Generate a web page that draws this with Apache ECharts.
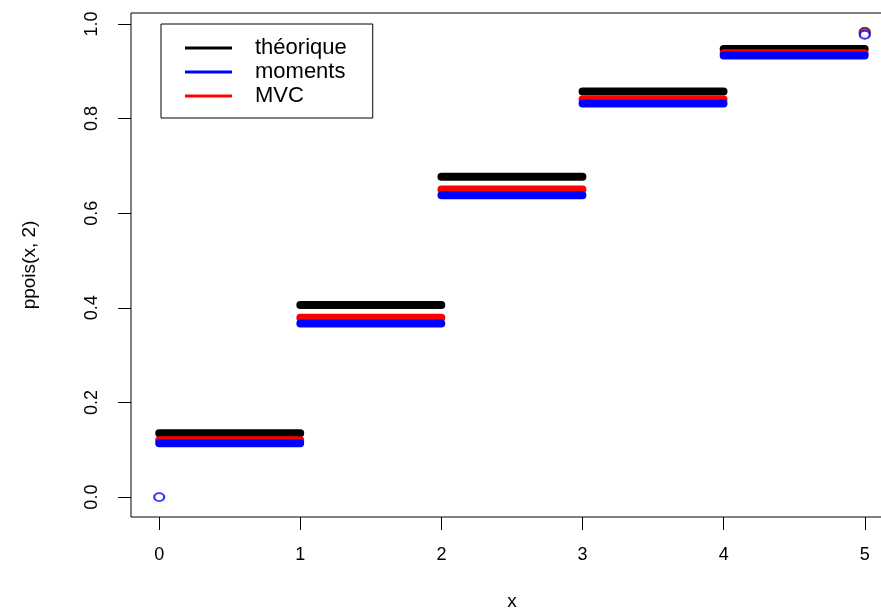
<!DOCTYPE html>
<html>
<head>
<meta charset="utf-8">
<script src="https://cdn.jsdelivr.net/npm/echarts@6/dist/echarts.min.js"></script>
<style>
html,body{margin:0;padding:0;background:#fff;}
#chart{width:881px;height:613px;}
</style>
</head>
<body>
<div id="chart"></div>
<script>
// step starting points (x) and the value of each step
const stepStarts = [0, 1, 2, 3, 4];
const stepLength = 0.999;
const theorique = [0.135, 0.406, 0.677, 0.857, 0.947];
const mvc       = [0.120, 0.379, 0.650, 0.840, 0.938];
const moments   = [0.114, 0.367, 0.638, 0.832, 0.933];
// isolated points
const theoriqueEnd = [[5, 0.983]];
const mvcEnd       = [[5, 0.980]];
const momentsPts   = [[0, 0.0], [5, 0.977]];
const xTicks = [0, 1, 2, 3, 4, 5];
const yTicks = [0.0, 0.2, 0.4, 0.6, 0.8, 1.0];

function steps(vals) {
  const d = [];
  vals.forEach((v, i) => {
    if (i) d.push('-');
    d.push([stepStarts[i], v], [stepStarts[i] + stepLength, v]);
  });
  return d;
}

const FONT = "'Liberation Sans', Arial, sans-serif";
const BLACK = '#000000', BLUE = '#0000ff', RED = '#ff0000';

function stepSeries(name, color, vals) {
  return {
    type: 'line', name: name, data: steps(vals), showSymbol: false,
    connectNulls: false, silent: true,
    lineStyle: { color: color, width: 8, cap: 'round' },
    itemStyle: { color: color }
  };
}
function ptSeries(name, color, pts) {
  return {
    type: 'scatter', name: name, data: pts, symbol: 'emptyCircle', symbolSize: [10, 8],
    itemStyle: { color: color, borderColor: color, borderWidth: 1.3 }, silent: true
  };
}

const chart = echarts.init(document.getElementById('chart'), null, { renderer: 'canvas' });
chart.setOption({
  animation: false,
  backgroundColor: '#ffffff',
  grid: { left: 131, top: 13, width: 762, height: 504, outerBoundsMode: 'none', containLabel: false,
          show: true, borderColor: '#000', borderWidth: 1, backgroundColor: 'transparent' },
  xAxis: {
    type: 'value', min: -0.2, max: 5.2,
    name: 'x', nameLocation: 'middle', nameGap: 75,
    nameTextStyle: { fontFamily: FONT, fontSize: 19, color: '#000' },
    axisLine: { show: false, onZero: false },
    splitLine: { show: false },
    axisTick: { show: true, inside: false, length: 13, customValues: xTicks, lineStyle: { color: '#000', width: 1 } },
    axisLabel: { customValues: xTicks, margin: 29, fontFamily: FONT, fontSize: 18, color: '#000', formatter: v => String(v) }
  },
  yAxis: {
    type: 'value', min: -0.042, max: 1.023,
    name: 'ppois(x, 2)', nameLocation: 'middle', nameGap: 92, nameRotate: 90,
    nameTextStyle: { fontFamily: FONT, fontSize: 19, color: '#000' },
    axisLine: { show: false, onZero: false },
    splitLine: { show: false },
    axisTick: { show: true, inside: false, length: 13, customValues: yTicks, lineStyle: { color: '#000', width: 1 } },
    axisLabel: { customValues: yTicks, rotate: 90, margin: 30, fontFamily: FONT, fontSize: 18, color: '#000', formatter: v => v.toFixed(1) }
  },
  legend: {
    orient: 'vertical', left: 161, top: 24,
    itemWidth: 47, itemHeight: 3, itemGap: 2, icon: 'rect',
    borderColor: '#000', borderWidth: 1, padding: [13, 26, 11, 24],
    selectedMode: false,
    textStyle: { fontFamily: FONT, fontSize: 22, lineHeight: 21, color: '#000', padding: [0, 0, 0, 18] },
    data: [
      { name: 'théorique', itemStyle: { color: BLACK } },
      { name: 'moments', itemStyle: { color: BLUE } },
      { name: 'MVC', itemStyle: { color: RED } }
    ]
  },
  series: [
    stepSeries('théorique', BLACK, theorique),
    stepSeries('MVC', RED, mvc),
    stepSeries('moments', BLUE, moments),
    ptSeries('théorique', BLACK, theoriqueEnd),
    ptSeries('MVC', RED, mvcEnd),
    ptSeries('moments', BLUE, momentsPts)
  ]
});
</script>
</body>
</html>
